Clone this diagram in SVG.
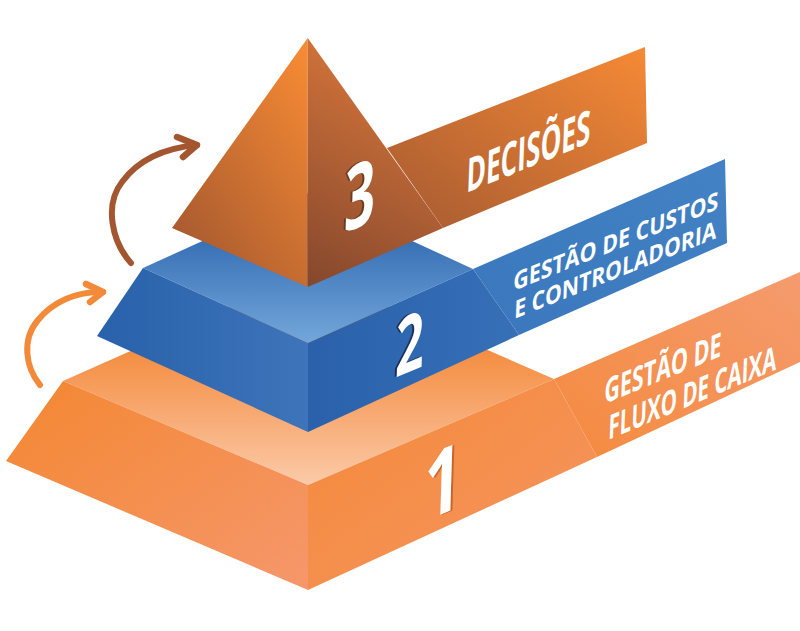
<svg xmlns="http://www.w3.org/2000/svg" width="800" height="631" viewBox="0 0 800 631">
<defs>
<linearGradient id="gPyrL" x1="0.9" y1="0" x2="0.1" y2="1"><stop offset="0" stop-color="#F68A34"/><stop offset="1" stop-color="#A1562F"/></linearGradient>
<linearGradient id="gPyrR" x1="0.3" y1="0" x2="0" y2="1"><stop offset="0" stop-color="#D5753A"/><stop offset="1" stop-color="#84472D"/></linearGradient>
<linearGradient id="gRib3" x1="1" y1="0" x2="0" y2="1"><stop offset="0" stop-color="#F68A36"/><stop offset="1" stop-color="#A65A31"/></linearGradient>
<linearGradient id="gBTop" x1="0.5" y1="0.2" x2="0.5" y2="1"><stop offset="0" stop-color="#2E67AF"/><stop offset="1" stop-color="#73A7DB"/></linearGradient>
<linearGradient id="gBL" x1="0" y1="0" x2="1" y2="0"><stop offset="0" stop-color="#2961AA"/><stop offset="1" stop-color="#3D74BA"/></linearGradient>
<linearGradient id="gBR" x1="0" y1="0" x2="1" y2="0"><stop offset="0" stop-color="#2A61AA"/><stop offset="1" stop-color="#3670B7"/></linearGradient>
<linearGradient id="gRib2" x1="0" y1="1" x2="1" y2="0"><stop offset="0" stop-color="#3A77BD"/><stop offset="1" stop-color="#4382C4"/></linearGradient>
<linearGradient id="gOTop" x1="0.5" y1="0.35" x2="0.5" y2="1"><stop offset="0" stop-color="#F48B3E"/><stop offset="1" stop-color="#FBCAA9"/></linearGradient>
<linearGradient id="gOL" x1="0" y1="0" x2="1" y2="1"><stop offset="0" stop-color="#F38731"/><stop offset="1" stop-color="#F6976C"/></linearGradient>
<linearGradient id="gOR" x1="0" y1="0" x2="1" y2="1"><stop offset="0" stop-color="#F48938"/><stop offset="1" stop-color="#F59562"/></linearGradient>
<linearGradient id="gRib1" x1="0" y1="1" x2="1" y2="0"><stop offset="0" stop-color="#F48A3E"/><stop offset="1" stop-color="#F59B6E"/></linearGradient>
<style>
.lbl{font-family:"Open Sans","DejaVu Sans",sans-serif;font-weight:700;fill:#FFFFFF}
.num{font-family:"Open Sans","DejaVu Sans",sans-serif;font-weight:700;text-anchor:middle}
.arr{fill:none;stroke-linecap:round;stroke-linejoin:round}
</style>
</defs>
<rect width="800" height="631" fill="#FFFFFF"/>

<g id="tier1">
<polygon points="554,379 800,272 800,362 597,457" fill="url(#gRib1)"/>
<polygon points="63,381 308,272 554,379 308,485" fill="url(#gOTop)"/>
<polygon points="63,381 6,461 308,590 308,485" fill="url(#gOL)"/>
<polygon points="308,485 308,590 597,457 554,379" fill="url(#gOR)"/>
<text class="num" fill="#C4662A" transform="matrix(0.72,-0.3,-0.03,1,444,514)" font-size="92">1</text>
<text class="num" fill="#FFFFFF" transform="matrix(0.72,-0.3,-0.03,1,442,514)" font-size="92">1</text>
<text class="lbl" font-size="34" transform="matrix(1,-0.41,-0.04,1,604,404)" textLength="117" lengthAdjust="spacingAndGlyphs">GESTÃO DE</text>
<text class="lbl" font-size="34" transform="matrix(1,-0.42,-0.04,1,608,440)" textLength="168" lengthAdjust="spacingAndGlyphs">FLUXO DE CAIXA</text>
</g>

<g id="tier2">
<polygon points="473,269 725,159 727,243 519,335" fill="url(#gRib2)"/>
<polygon points="143,268 308,193 473,269 308,343" fill="url(#gBTop)"/>
<polygon points="143,268 97,336 308,432 308,343" fill="url(#gBL)"/>
<polygon points="308,343 308,432 519,335 473,269" fill="url(#gBR)"/>
<text class="num" fill="#1C2F5A" transform="matrix(0.62,-0.255,-0.03,1,407,372)" font-size="80">2</text>
<text class="num" fill="#FFFFFF" transform="matrix(0.62,-0.255,-0.03,1,409,372)" font-size="80">2</text>
<text class="lbl" font-size="25" transform="matrix(1,-0.4,-0.04,1,513,291)" textLength="205" lengthAdjust="spacingAndGlyphs">GESTÃO DE CUSTOS</text>
<text class="lbl" font-size="25" transform="matrix(1,-0.4,-0.04,1,514,319)" textLength="202" lengthAdjust="spacingAndGlyphs">E CONTROLADORIA</text>
</g>

<g id="tier3">
<polygon points="387,148 645,47 647,143 443,228" fill="url(#gRib3)"/>
<polygon points="307.7,38 172,228 307.7,287" fill="url(#gPyrL)"/>
<polygon points="307.7,38 307.7,287 443,228" fill="url(#gPyrR)"/>
<text class="num" fill="#6E3A1F" transform="matrix(0.6,-0.24,-0.03,1,357,227)" font-size="90">3</text>
<text class="num" fill="#FFFFFF" transform="matrix(0.6,-0.24,-0.03,1,359,227)" font-size="90">3</text>
<text class="lbl" font-size="47" transform="matrix(1,-0.406,-0.04,1,466,193)" textLength="124" lengthAdjust="spacingAndGlyphs">DECISÕES</text>
</g>

<g id="connectors">
<path class="arr" d="M131,263 C112,242 104,205 122,182 C138,160 165,148 197,145" stroke="#A3562F" stroke-width="6"/>
<path class="arr" d="M177,137 L197,145 L183,157" stroke="#A3562F" stroke-width="6.5"/>
<path class="arr" d="M40,385 C26,368 21,340 38,320 C52,303 75,291 103,292" stroke="#F38A3A" stroke-width="6"/>
<path class="arr" d="M86,284 L103,292 L90,302" stroke="#F38A3A" stroke-width="6.5"/>
</g>
</svg>
